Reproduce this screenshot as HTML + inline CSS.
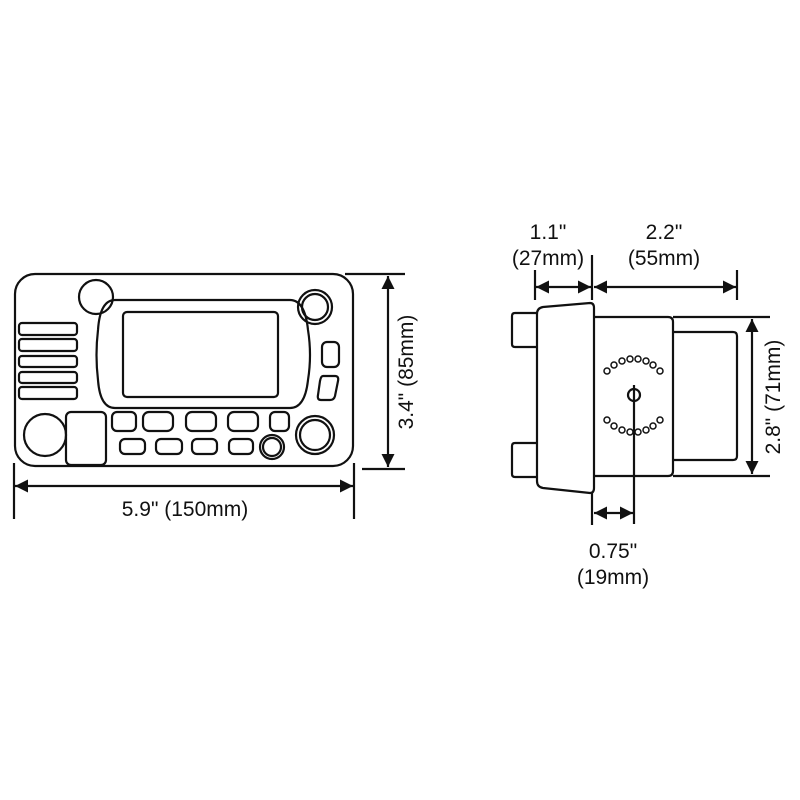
<!DOCTYPE html>
<html><head><style>body{margin:0;background:#fff}svg{display:block}text{font-family:"Liberation Sans",sans-serif;font-size:21px;fill:#111}</style></head><body>
<svg width="800" height="800" viewBox="0 0 800 800" xmlns="http://www.w3.org/2000/svg">
<defs><marker id="a" viewBox="0 0 10 10" refX="10" refY="5" markerWidth="16" markerHeight="13" markerUnits="userSpaceOnUse" orient="auto-start-reverse"><path d="M0,0L10,5L0,10z" fill="#111"/></marker></defs>
<g fill="none" stroke="#111" stroke-width="2.2">
<rect x="15" y="274" width="338" height="192" rx="20"/>
<circle cx="96" cy="297" r="17"/>
<path d="M115,300 H290 Q305,300 308,330 Q312,355 308,380 Q305,408 290,408 H115 Q100,408 98,380 Q95,355 98,330 Q100,300 115,300Z"/>
<rect x="123" y="312" width="155" height="85" rx="4"/>
<rect x="19" y="323" width="58" height="12" rx="3"/>
<rect x="19" y="339" width="58" height="12" rx="3"/>
<rect x="19" y="356" width="58" height="11" rx="3"/>
<rect x="19" y="372" width="58" height="11" rx="3"/>
<rect x="19" y="387" width="58" height="12" rx="3"/>
<circle cx="45" cy="435" r="21"/>
<rect x="66" y="412" width="40" height="53" rx="5"/>
<rect x="112" y="412" width="24" height="19" rx="5"/>
<rect x="143" y="412" width="30" height="19" rx="6"/>
<rect x="186" y="412" width="30" height="19" rx="6"/>
<rect x="228" y="412" width="30" height="19" rx="6"/>
<rect x="270" y="412" width="19" height="19" rx="5"/>
<rect x="120" y="439" width="25" height="15" rx="5"/>
<rect x="156" y="439" width="26" height="15" rx="5"/>
<rect x="192" y="439" width="25" height="15" rx="5"/>
<rect x="229" y="439" width="24" height="15" rx="5"/>
<circle cx="272" cy="447" r="12"/><circle cx="272" cy="447" r="9"/>
<circle cx="315" cy="307" r="17"/><circle cx="315" cy="307" r="13"/>
<circle cx="315" cy="435" r="19"/><circle cx="315" cy="435" r="15"/>
<rect x="322" y="342" width="17" height="25" rx="5"/>
<path d="M323,376 H335 Q339,376 338,381 L335,396 Q334,400 330,400 H321 Q317,400 318,395 L320,381 Q321,376 323,376Z"/>
<line x1="345" y1="274" x2="405" y2="274"/><line x1="362" y1="469" x2="405" y2="469"/>
<line x1="388" y1="276" x2="388" y2="467" marker-start="url(#a)" marker-end="url(#a)"/>
<line x1="14" y1="463" x2="14" y2="519"/><line x1="354" y1="463" x2="354" y2="519"/>
<line x1="15" y1="486" x2="353" y2="486" marker-start="url(#a)" marker-end="url(#a)"/>
<path d="M543,307 L590,303 Q594,303 594,308 V488 Q594,493 590,493 L543,488 Q537,487 537,481 V314 Q537,308 543,307Z"/>
<path d="M537,313 H515 Q512,313 512,316 V344 Q512,347 515,347 H537"/>
<path d="M537,443 H515 Q512,443 512,446 V474 Q512,477 515,477 H537"/>
<path d="M594,317 H668 Q673,317 673,322 V471 Q673,476 668,476 H594"/>
<path d="M673,332 H733 Q737,332 737,336 V456 Q737,460 733,460 H673"/>
<line x1="673" y1="317" x2="770" y2="317"/><line x1="673" y1="476" x2="770" y2="476"/>
<line x1="752" y1="319" x2="752" y2="474" marker-start="url(#a)" marker-end="url(#a)"/>
<circle cx="634" cy="395" r="6"/>
<line x1="634" y1="385" x2="634" y2="524"/>
<line x1="592" y1="493" x2="592" y2="525"/>
<line x1="594" y1="513" x2="633" y2="513" marker-start="url(#a)" marker-end="url(#a)"/>
<line x1="535" y1="270" x2="535" y2="300"/><line x1="592" y1="255" x2="592" y2="300"/><line x1="737" y1="270" x2="737" y2="300"/>
<line x1="536" y1="287" x2="591" y2="287" marker-start="url(#a)" marker-end="url(#a)"/>
<line x1="594" y1="287" x2="736" y2="287" marker-start="url(#a)" marker-end="url(#a)"/>
</g>
<g fill="#fff" stroke="#111" stroke-width="1.5">
<circle cx="607" cy="371" r="3"/><circle cx="614" cy="365" r="3"/><circle cx="622" cy="361" r="3"/><circle cx="630" cy="359" r="3"/><circle cx="638" cy="359" r="3"/><circle cx="646" cy="361" r="3"/><circle cx="653" cy="365" r="3"/><circle cx="660" cy="371" r="3"/>
<circle cx="607" cy="420" r="3"/><circle cx="614" cy="426" r="3"/><circle cx="622" cy="430" r="3"/><circle cx="630" cy="432" r="3"/><circle cx="638" cy="432" r="3"/><circle cx="646" cy="430" r="3"/><circle cx="653" cy="426" r="3"/><circle cx="660" cy="420" r="3"/>
</g>
<text x="185" y="516" text-anchor="middle">5.9" (150mm)</text>
<text transform="translate(413,372) rotate(-90)" text-anchor="middle">3.4" (85mm)</text>
<text transform="translate(780,397) rotate(-90)" text-anchor="middle">2.8" (71mm)</text>
<text x="548" y="239" text-anchor="middle">1.1"</text>
<text x="548" y="265" text-anchor="middle">(27mm)</text>
<text x="664" y="239" text-anchor="middle">2.2"</text>
<text x="664" y="265" text-anchor="middle">(55mm)</text>
<text x="613" y="558" text-anchor="middle">0.75"</text>
<text x="613" y="584" text-anchor="middle">(19mm)</text>
</svg>
</body></html>
